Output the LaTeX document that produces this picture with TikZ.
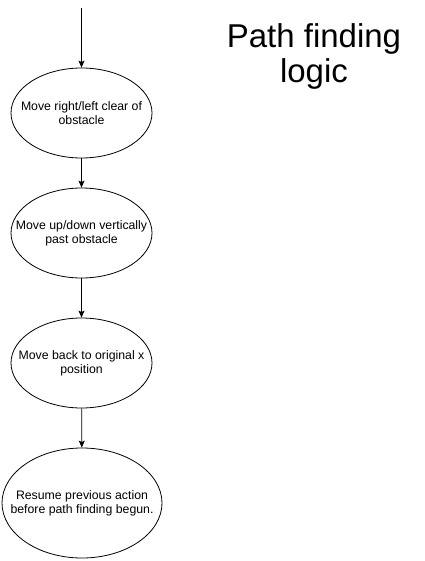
\documentclass[tikz,border=0pt]{standalone}
\usepackage{fontspec}
\setmainfont{Liberation Sans}
\usetikzlibrary{shapes.geometric,arrows.meta}
\begin{document}
\begin{tikzpicture}[x=1pt,y=-1pt,
  stepnode/.style={ellipse,draw,line width=0.8pt,inner sep=0pt},
  steptext/.style={align=center,font=\fontsize{12.3}{14}\selectfont},
  flow/.style={draw,line width=0.8pt,-{Stealth[length=7pt,width=6pt,inset=1.5pt]}}]
\useasboundingbox (0,0) rectangle (424,561);
\coordinate (start) at (81.5,8);
\node[stepnode,minimum width=141pt,minimum height=90pt,label={[steptext]center:Move right/left clear of\\obstacle}] (a) at (81.5,113) {};
\node[stepnode,minimum width=141pt,minimum height=90pt,label={[steptext]center:Move up/down vertically\\past obstacle}] (b) at (81.5,233) {};
\node[stepnode,minimum width=141pt,minimum height=90pt,label={[steptext]center:Move back to original x\\position}] (c) at (81.5,363) {};
\node[stepnode,minimum width=160pt,minimum height=110pt,label={[steptext]center:Resume previous action\\before path finding begun.}] (d) at (82,503) {};
\node[align=center,font=\fontsize{33}{35}\selectfont] (title) at (314,56) {Path finding\\logic};
\draw[flow] (start) -- (a);
\draw[flow] (a) -- (b);
\draw[flow] (b) -- (c);
\draw[flow] (c) -- (d);
\end{tikzpicture}
\end{document}
